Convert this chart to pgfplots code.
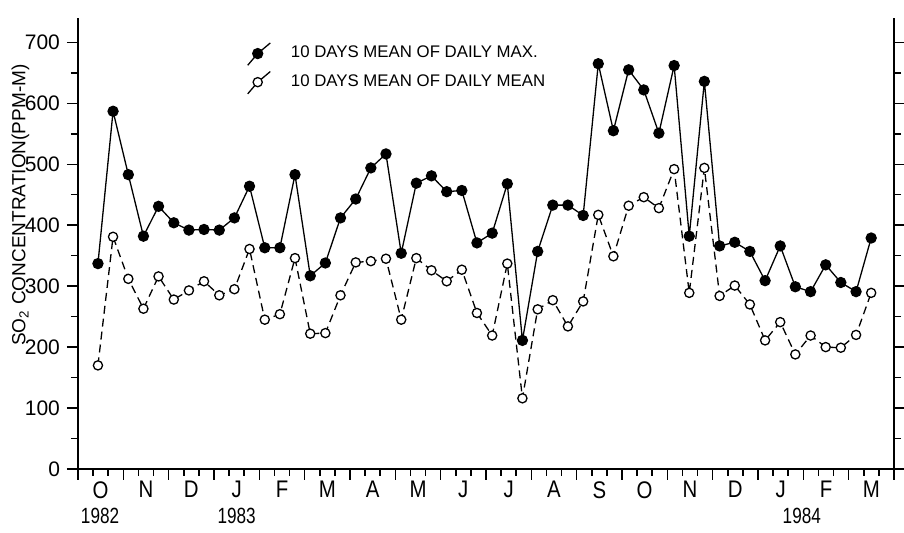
\documentclass[border=0pt]{standalone}
\usepackage{fontspec}
\setmainfont{Liberation Sans}
\newfontfamily\yearfont[FakeStretch=0.78]{Liberation Sans}
\newfontfamily\monthfont[FakeStretch=0.85]{Liberation Sans}
\usepackage{pgfplots}
\pgfplotsset{compat=1.18}
\usepackage{pgfplotstable}

\pgfplotstableread{
x max mean
1.32 337 170
2.32 587 381
3.33 483 312
4.33 382 263
5.33 431 316
6.34 404 278
7.34 392 293
8.34 393 308
9.35 392 285
10.35 412 295
11.35 464 361
12.36 363 245
13.36 363 254
14.36 483 346
15.37 317 222
16.37 338 223
17.37 412 285
18.38 443 339
19.38 494 341
20.38 517 345
21.39 354 245
22.39 469 346
23.39 481 326
24.40 455 308
25.40 457 327
26.40 371 256
27.41 387 219
28.41 468 337
29.41 211 116
30.42 357 262
31.42 433 277
32.42 433 234
33.43 416 275
34.43 665 417
35.43 555 349
36.44 655 432
37.44 622 446
38.44 551 428
39.45 662 492
40.45 382 289
41.45 636 494
42.46 366 284
43.46 372 301
44.46 357 270
45.47 309 211
46.47 366 241
47.47 299 188
48.48 291 219
49.48 335 200
50.48 306 199
51.49 291 220
52.49 379 289
}\data

\begin{document}
\begin{tikzpicture}
\begin{axis}[
  at={(0,0)}, anchor=south west,
  scale only axis, width=408pt, height=225.5pt,
  xmin=0, xmax=54, ymin=0, ymax=740,
  axis x line*=bottom,
  axis line style={line width=1pt, -},
  tick align=outside,
  yticklabel pos=left,
  major tick length=5.5pt, minor tick length=3.5pt,
  every tick/.style={black, line width=0.75pt},
  xtick={0,3,...,54}, xticklabels={},
  minor xtick={0,1,...,54},
  ytick={0,100,...,700}, minor ytick={50,150,...,650},
  extra x ticks={1.5,4.5,...,52.5},
  extra x tick labels={O,N,D,J,F,M,A,M,J,J,A,S,O,N,D,J,F,M},
  extra x tick style={tick style={draw=none}, xticklabel style={font=\monthfont\fontsize{12}{14}\selectfont, yshift=2.8pt}},
  yticklabel style={font=\fontsize{10.5}{12}\selectfont},
  /pgf/number format/assume math mode=true,
  clip=false,
  legend style={at={(rel axis cs:0.2067,0.947)}, anchor=north west, draw=none, fill=none, inner sep=0pt,
    font=\fontsize{8.4}{10}\selectfont, column sep=10pt, row sep=2.5pt, nodes={inner sep=0pt}},
  legend cell align=left,
  legend image code/.code={\draw[mark repeat=2,mark phase=2,#1,solid] plot coordinates {(-5pt,-5.85pt) (0pt,0pt) (6.3pt,5.3pt)};},
  reverse legend,
]
\addplot[black, line width=0.65pt, dash pattern=on 4pt off 2.5pt, mark=*, mark size=2.3pt,
  mark options={solid, fill=white, line width=0.65pt}] table[x=x,y=mean]{\data};
\addlegendentry{10 DAYS MEAN OF DAILY MEAN}
\addplot[black, line width=0.65pt, mark=*, mark size=2.5pt] table[x=x,y=max]{\data};
\addlegendentry{10 DAYS MEAN OF DAILY MAX.}
\node[rotate=90, font=\fontsize{9.5}{11}\selectfont] at ([xshift=-28.75pt]rel axis cs:0,0.585) {SO\textsubscript{2} CONCENTRATION(PPM-M)};
\node[font=\yearfont\fontsize{11}{13}\selectfont] at ([yshift=-23.5pt]axis cs:1.46,0) {1982};
\node[font=\yearfont\fontsize{11}{13}\selectfont] at ([yshift=-23.5pt]axis cs:10.5,0) {1983};
\node[font=\yearfont\fontsize{11}{13}\selectfont] at ([yshift=-23.5pt]axis cs:47.9,0) {1984};
\end{axis}
\pgfresetboundingbox
\path[use as bounding box] (-39pt,-32pt) rectangle (413pt,234.5pt);
\end{tikzpicture}
\end{document}
